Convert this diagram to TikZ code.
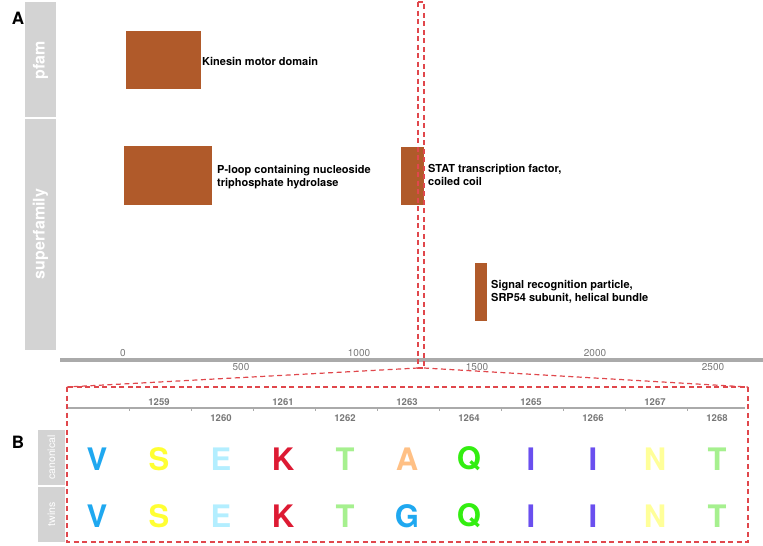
\documentclass[tikz,border=0pt]{standalone}
\usepackage{fontspec}
\setmainfont{TeX Gyre Heros}
\begin{document}
\begin{tikzpicture}[x=1pt,y=-1pt,
  lab/.style={font=\bfseries\fontsize{11}{13}\selectfont, anchor=west, align=left, inner sep=0pt},
  dom/.style={fill=dombrown, draw=none},
  bar/.style={fill=barGray, draw=none},
  axlab/.style={font=\fontsize{10}{12}\selectfont, text=axGray, inner sep=0pt},
  blab/.style={font=\bfseries\fontsize{9.5}{11}\selectfont, text=axGray, inner sep=0pt},
  res/.style={font=\bfseries\fontsize{31}{33}\selectfont, inner sep=0pt},
  rot/.style={rotate=90, text=white, font=\bfseries\fontsize{16}{18}\selectfont, inner sep=0pt},
  rotsm/.style={rotate=90, text=white, font=\fontsize{10.5}{12}\selectfont, inner sep=0pt},
  panel/.style={font=\bfseries\fontsize{17}{19}\selectfont, inner sep=0pt},
  zoomline/.style={draw=zoomRed, line width=1.2pt, dash pattern=on 5pt off 3.5pt}
]
\definecolor{dombrown}{HTML}{B05A2A}
\definecolor{barGray}{HTML}{D3D3D3}
\definecolor{axGray}{HTML}{777777}
\definecolor{axLine}{HTML}{AAAAAA}
\definecolor{zoomRed}{HTML}{E0474C}
\definecolor{cV}{HTML}{1FA8F0}
\definecolor{cS}{HTML}{FFFF33}
\definecolor{cE}{HTML}{B3EEFF}
\definecolor{cK}{HTML}{DD1A33}
\definecolor{cT}{HTML}{A6F08F}
\definecolor{cA}{HTML}{FFC085}
\definecolor{cQ}{HTML}{33EE11}
\definecolor{cI}{HTML}{6A4FEF}
\definecolor{cN}{HTML}{FFFF99}
\useasboundingbox (0,0) rectangle (763,546);
% panel labels
\node[panel] (pA) at (18,18) {A};
\node[panel] (pB) at (18,442) {B};
% track label bars
\fill[bar] (25,2) rectangle (56,117);
\node[rot] (tpfam) at (40.5,60) {pfam};
\fill[bar] (25,119) rectangle (56,350);
\node[rot] (tsuper) at (40.5,234) {superfamily};
% domains
\fill[dom] (126,31) rectangle (201,89);
\node[lab] (lkin) at (202,61) {Kinesin motor domain};
\fill[dom] (124,146) rectangle (212,205);
\node[lab] (lploop) at (217,177) {P-loop containing nucleoside\\triphosphate hydrolase};
\fill[dom] (401,147) rectangle (424,205);
\node[lab] (lstat) at (428,175) {STAT transcription factor,\\coiled coil};
\fill[dom] (475,263) rectangle (487,321);
\node[lab] (lsrp) at (491,292) {Signal recognition particle,\\SRP54 subunit, helical bundle};
% main axis
\draw[axLine, line width=3.5pt] (60,360) -- (763,360);
\node[axlab] (a0) at (123,353) {0};
\node[axlab] (a500) at (241,367) {500};
\node[axlab] (a1000) at (359,353) {1000};
\node[axlab] (a1500) at (477,367) {1500};
\node[axlab] (a2000) at (595,353) {2000};
\node[axlab] (a2500) at (713,367) {2500};
% zoom highlight
\coordinate (zTL) at (418,2);
\coordinate (zBR) at (424,368);
\coordinate (zBL) at (418,368);
\coordinate (bTL) at (67,387);
\coordinate (bTR) at (748,387);
\coordinate (bBR) at (748,542);
\coordinate (bBL) at (67,542);
\draw[zoomline] (zTL) rectangle (zBR);
\draw[zoomline] (zBL) -- (bTL);
\draw[zoomline] (zBR) -- (bTR);
\draw[zoomline] (bTL) rectangle (bBR);
% residue axis
\draw[axLine, line width=1.8pt] (68,408) -- (745,408);
\foreach \k in {0,...,9} {
  \draw[axLine, line width=0.8pt] ({129+62*\k},408) -- ({129+62*\k},411);
}
\foreach \k/\n in {1/1259,3/1261,5/1263,7/1265,9/1267} {
  \node[blab] (r\n) at ({97+62*\k},402) {\n};
}
\foreach \k/\n in {2/1260,4/1262,6/1264,8/1266,10/1268} {
  \node[blab] (r\n) at ({97+62*\k},418) {\n};
}
% row labels
\fill[bar] (38,430) rectangle (65,485);
\node[rotsm] (tcan) at (51.5,457.5) {canonical};
\fill[bar] (38,487) rectangle (65,542);
\node[rotsm] (ttw) at (51.5,514.5) {twins};
% residues
\foreach \k/\c/\col in {0/V/cV,1/S/cS,2/E/cE,3/K/cK,4/T/cT,5/A/cA,6/Q/cQ,7/I/cI,8/I/cI,9/N/cN,10/T/cT} {
  \node[res, text=\col] (c\k) at ({97+62*\k},459) {\c};
}
\foreach \k/\c/\col in {0/V/cV,1/S/cS,2/E/cE,3/K/cK,4/T/cT,5/G/cV,6/Q/cQ,7/I/cI,8/I/cI,9/N/cN,10/T/cT} {
  \node[res, text=\col] (t\k) at ({97+62*\k},516) {\c};
}
\end{tikzpicture}
\end{document}
